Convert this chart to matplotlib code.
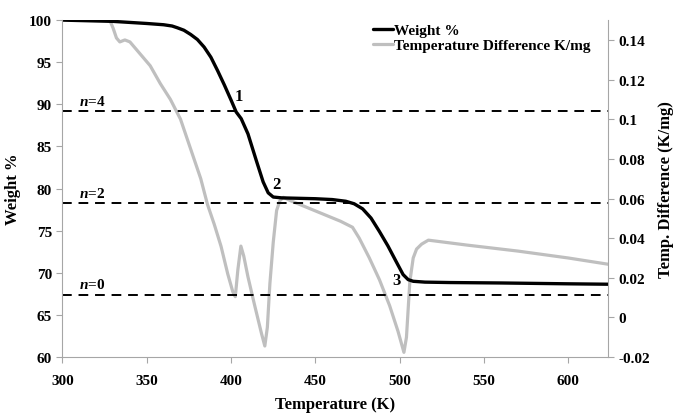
import matplotlib
matplotlib.use("Agg")
import matplotlib.pyplot as plt


# Weight % curve (left axis)
tempW = [300, 330, 350, 360, 365, 368, 372, 376, 380, 384, 388, 392, 396, 400,
         403, 406, 410, 415, 419, 422, 425, 430, 440, 450, 460, 468, 473, 478,
         483, 488, 493, 498, 502, 505, 508, 515, 530, 560, 600, 624]
weight = [100, 99.85, 99.6, 99.45, 99.3, 99.1, 98.8, 98.3, 97.7, 96.8, 95.6,
          94.0, 92.3, 90.5, 89.1, 88.3, 86.5, 83.3, 80.8, 79.5, 79.0, 78.9,
          78.85, 78.8, 78.7, 78.5, 78.2, 77.6, 76.5, 74.9, 73.2, 71.3, 69.8,
          69.2, 69.0, 68.9, 68.85, 68.8, 68.7, 68.65]

# Temperature difference curve (right axis)
tempD = [328, 330, 332, 334, 337, 340, 345, 352, 358, 364, 370, 376, 382, 386,
         390, 394, 398, 401, 402.5, 404, 405.8, 407.5, 410, 414, 418, 420, 421.5,
         423, 425, 427, 429, 431, 435, 445, 455, 465, 472, 476, 482, 488, 494,
         499, 502.5, 504, 506, 508, 510, 513, 517, 540, 570, 600, 624]
tdiff = [0.150, 0.146, 0.141, 0.139, 0.140, 0.139, 0.134, 0.127, 0.118, 0.110,
         0.100, 0.085, 0.070, 0.057, 0.047, 0.036, 0.022, 0.013, 0.0105, 0.024,
         0.036, 0.031, 0.0205, 0.006, -0.008, -0.0144, -0.005, 0.017, 0.038,
         0.054, 0.059, 0.0606, 0.059, 0.0555, 0.052, 0.0485, 0.0455, 0.040,
         0.030, 0.019, 0.006, -0.007, -0.0176, -0.010, 0.018, 0.030, 0.0345,
         0.037, 0.039, 0.0365, 0.0335, 0.030, 0.0268]

# hydration levels (dashed lines)
nLevels = [89.2, 78.3, 67.4]
nLabels = ["4", "2", "0"]

# step markers
stepLabels = ["1", "2", "3"]
stepT = [404.5, 427, 498]
stepW = [90.0, 79.6, 68.2]


def main():

    CreateGraph()

    return



def CreateGraph():
    """
    Draw TGA / DTA plot and save to out.png
    """

    plt.rcParams["font.family"] = ["Liberation Serif", "DejaVu Serif"]
    plt.rcParams["font.weight"] = "bold"
    plt.rcParams["mathtext.fontset"] = "custom"
    plt.rcParams["mathtext.it"] = "Liberation Serif:italic:bold"
    plt.rcParams["mathtext.rm"] = "Liberation Serif:bold"

    grey = "#bfbfbf"
    axcol = "#a6a6a6"

    fig = plt.figure(figsize=(6.77, 4.14), dpi=100)
    ax = fig.add_axes([0.0923, 0.135, 0.8057, 0.814])
    ax2 = ax.twinx()

    # grey line behind the black one
    ax.set_zorder(ax2.get_zorder() + 1)
    ax.patch.set_visible(False)

    l2, = ax2.plot(tempD, tdiff, color=grey, lw=2.3, solid_capstyle="round")
    l1, = ax.plot(tempW, weight, color="black", lw=2.4, solid_capstyle="round")

    for lv, lab in zip(nLevels, nLabels):
        ax.axhline(lv, color="black", lw=1.4, dashes=(5, 3.5))
        ax.text(310, lv + 0.4, r"$n$=" + lab, fontsize=11, fontweight="bold",
                va="bottom", ha="left")

    for lab, t, w in zip(stepLabels, stepT, stepW):
        ax.text(t, w, lab, fontsize=12, fontweight="bold", ha="center", va="bottom")

    ax.set_xlim([300, 623.5])
    ax.set_ylim([60, 100])
    ax2.set_ylim([-0.02, 0.15])

    ax.set_xticks([300, 350, 400, 450, 500, 550, 600])
    ax.set_yticks([60, 65, 70, 75, 80, 85, 90, 95, 100])
    ax2.set_yticks([-0.02, 0, 0.02, 0.04, 0.06, 0.08, 0.1, 0.12, 0.14])
    ax2.set_yticklabels(["-0.02", "0", "0.02", "0.04", "0.06", "0.08", "0.1", "0.12", "0.14"])

    for a in (ax, ax2):
        a.spines["top"].set_visible(False)
        for s in ("left", "right", "bottom"):
            a.spines[s].set_color(axcol)
        a.tick_params(colors=axcol, labelcolor="black", length=4, labelsize=11)
    ax.tick_params(axis="x", pad=8)
    ax2.spines["left"].set_visible(False)
    ax2.spines["bottom"].set_visible(False)
    ax.spines["right"].set_visible(False)

    ax.set_xlabel("Temperature (K)", fontsize=12, fontweight="bold", labelpad=7)
    ax.set_ylabel("Weight %", fontsize=12, fontweight="bold", labelpad=6)
    ax2.set_ylabel("Temp. Difference (K/mg)", fontsize=12, fontweight="bold", labelpad=6)

    ax.legend([l1, l2], ["Weight %", "Temperature Difference K/mg"],
              loc="upper left", bbox_to_anchor=(0.555, 1.012), frameon=False,
              borderpad=0, handlelength=1.3, handletextpad=0.1, labelspacing=0.05,
              prop={"size": 11, "weight": "bold"})

    fig.savefig("out.png", dpi=100)

    return



if __name__ == "__main__":
    main()
